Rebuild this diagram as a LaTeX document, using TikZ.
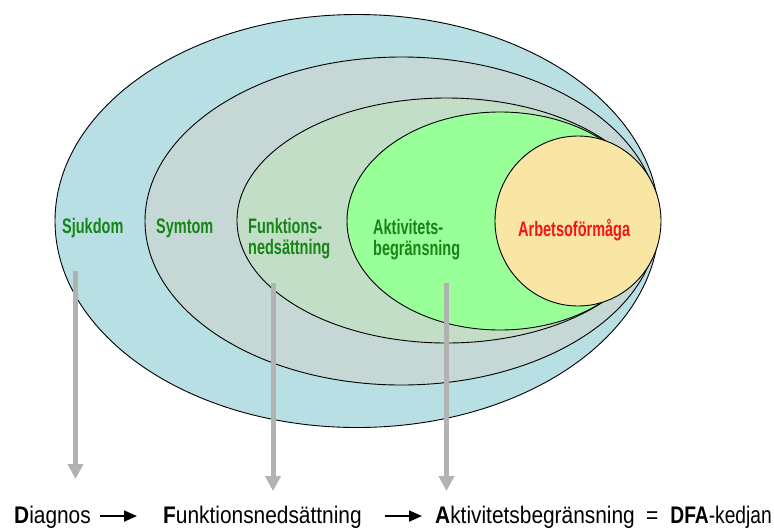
\documentclass[tikz,border=0pt]{standalone}
\usepackage{fontspec}
\usepackage{graphicx}
\usetikzlibrary{arrows.meta}
\newfontfamily\labelfont[FakeStretch=0.69]{Liberation Sans}
\newfontfamily\chainfont[FakeStretch=0.87]{Liberation Sans}
\definecolor{skyfill}{HTML}{B8DFE3}
\definecolor{symfill}{HTML}{C6D8D5}
\definecolor{funkfill}{HTML}{C2DEC6}
\definecolor{aktfill}{HTML}{99FF99}
\definecolor{arbfill}{HTML}{F9E6A4}
\definecolor{labgreen}{HTML}{158515}
\definecolor{labred}{HTML}{F51414}
\definecolor{arrowgray}{HTML}{B2B2B2}
\tikzset{
  zone/.style={draw=black, line width=0.9pt},
  zonelabel/.style={anchor=base west, inner sep=0pt, align=left,
    font=\labelfont\bfseries\fontsize{21}{21.5}\selectfont, text=labgreen},
  chainword/.style={anchor=base west, inner sep=0pt,
    font=\chainfont\fontsize{24}{26}\selectfont},
  downarrow/.style={draw=arrowgray, line width=5pt,
    -{Triangle[length=15pt,width=15pt]}},
  chainarrow/.style={draw=black, line width=1.8pt,
    -{Triangle[length=13pt,width=11pt]}}
}
\begin{document}
\begin{tikzpicture}[x=1pt,y=-1pt]
\useasboundingbox (0,0) rectangle (774,528);

% nested zones, outermost first
\draw[zone, fill=skyfill]  (357,221)   ellipse [x radius=302,   y radius=206.5];
\draw[zone, fill=symfill]  (401.5,221) ellipse [x radius=256.5, y radius=164];
\draw[zone, fill=funkfill] (446.5,220.5) ellipse [x radius=209.5, y radius=122.5];
\draw[zone, fill=aktfill]  (500,221)   ellipse [x radius=153,   y radius=109];
\draw[zone, fill=arbfill]  (578,221)   ellipse [x radius=83,    y radius=85];

% zone labels (base anchor sits on the last line)
\node[zonelabel] (sjuk) at (62,233) {Sjukdom};
\node[zonelabel] (sym)  at (156,233) {Symtom};
\node[zonelabel] (funklab) at (248,254.5) {Funktions-\\nedsättning};
\node[zonelabel] (aktlab)  at (373,255.5) {Aktivitets-\\begränsning};
\node[zonelabel, text=labred] (arb) at (518,236) {Arbetsoförmåga};

% chain along the bottom
\node[chainword] (diag) at (14,523) {\textbf{D}iagnos};
\node[chainword] (funk) at (163,523) {\textbf{F}unktionsnedsättning};
\node[chainword] (akt)  at (435,523) {\textbf{A}ktivitetsbegränsning};
\node[chainword] (eq)   at (646,523) {=};
\node[chainword, anchor=base east] (dfa) at (772,523) {\scalebox{0.92}[1]{\textbf{DFA}-kedjan}};

\draw[chainarrow] ([xshift=9pt,yshift=4.8pt]diag.mid east) -- ([xshift=-26pt,yshift=4.8pt]funk.mid west);
\draw[chainarrow] ([xshift=23pt,yshift=4.8pt]funk.mid east) -- ([xshift=-13pt,yshift=4.8pt]akt.mid west);

% vertical pointers from the zones down to the chain
\coordinate (p1top) at (75.5,271);
\coordinate (p1end) at (75.5,479);
\coordinate (p2top) at (273,283);
\coordinate (p2end) at (273,491);
\coordinate (p3top) at (446.5,283);
\coordinate (p3end) at (446.5,491);
\draw[downarrow] (p1top) -- (p1end);
\draw[downarrow] (p2top) -- (p2end);
\draw[downarrow] (p3top) -- (p3end);
\end{tikzpicture}
\end{document}
